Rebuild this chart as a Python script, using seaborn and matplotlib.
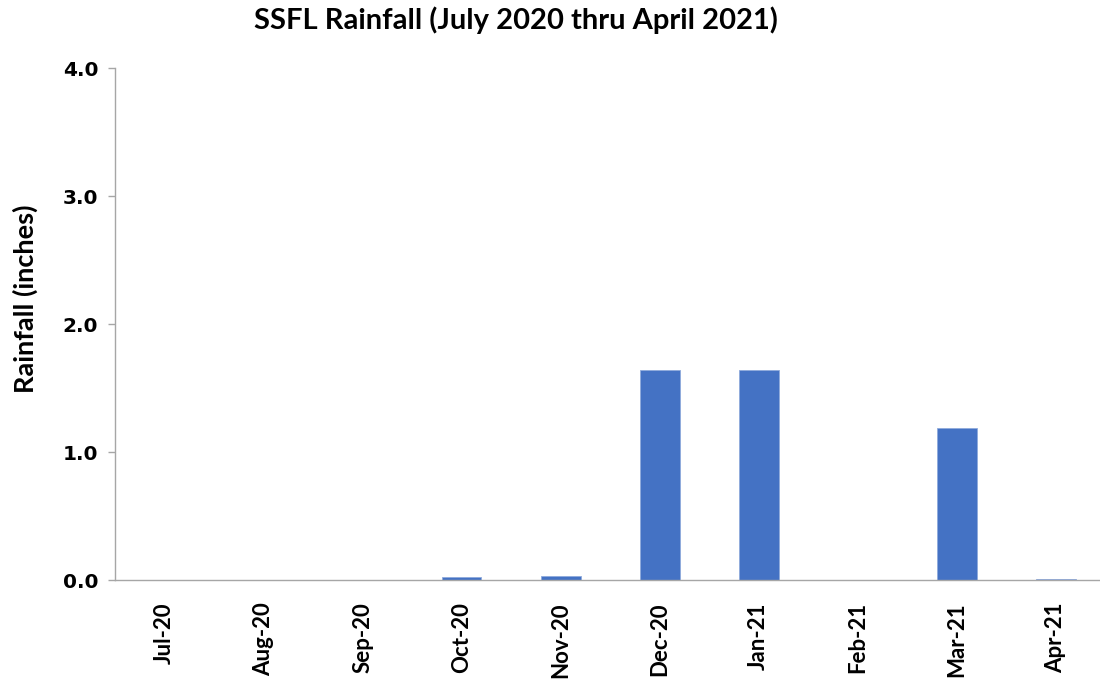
import matplotlib
matplotlib.use("Agg")
import matplotlib.pyplot as plt
import seaborn as sns
import pandas as pd

months = ["Jul-20", "Aug-20", "Sep-20", "Oct-20", "Nov-20",
          "Dec-20", "Jan-21", "Feb-21", "Mar-21", "Apr-21"]
rainfall = [0.0, 0.0, 0.0, 0.02, 0.03, 1.64, 1.64, 0.0, 1.19, 0.01]
y_ticks = [0.0, 1.0, 2.0, 3.0, 4.0]

sns.set_theme(style="white")
plt.rcParams["font.family"] = ["Lato", "DejaVu Sans"]
plt.rcParams["text.color"] = "black"
plt.rcParams["xtick.color"] = "black"
plt.rcParams["ytick.color"] = "black"

df = pd.DataFrame({"Month": months, "Rainfall": rainfall})

fig = plt.figure(figsize=(11, 6.83), dpi=100)
ax = fig.add_axes([0.1045, 0.1508, 0.9005, 0.7496])

sns.barplot(data=df, x="Month", y="Rainfall", color="#4472C4", width=0.4,
            edgecolor="#8FAADC", linewidth=0.6, saturation=1, ax=ax)

ax.set_xlim(-0.5, len(months) - 0.5)
ax.set_ylim(0, 4.0)
ax.set_yticks(y_ticks)
ax.set_yticklabels([f"{v:.1f}" for v in y_ticks], fontsize=14.5, fontweight="bold",
                   family="DejaVu Sans")
ax.set_xticks(range(len(months)))
ax.set_xticklabels(months, rotation=90, fontsize=16, fontweight="bold")

ax.tick_params(axis="y", which="both", left=True, length=5, width=1,
               color="#A6A6A6", labelcolor="black", pad=7)
ax.tick_params(axis="x", bottom=False, labelcolor="black", pad=10)

for side in ["top", "right"]:
    ax.spines[side].set_visible(False)
for side in ["left", "bottom"]:
    ax.spines[side].set_color("#A6A6A6")
    ax.spines[side].set_linewidth(1)

ax.set_xlabel("")
ax.set_ylabel("")
fig.text(25 / 1100, 1 - 299 / 683, "Rainfall (inches)", rotation=90,
         ha="center", va="center", fontsize=19.5, fontweight="bold", color="black")
fig.text(516 / 1100, 1 - 20 / 683, "SSFL Rainfall (July 2020 thru April 2021)",
         ha="center", va="center", fontsize=21, fontweight="bold", color="black")

fig.savefig("out.png", dpi=100)
